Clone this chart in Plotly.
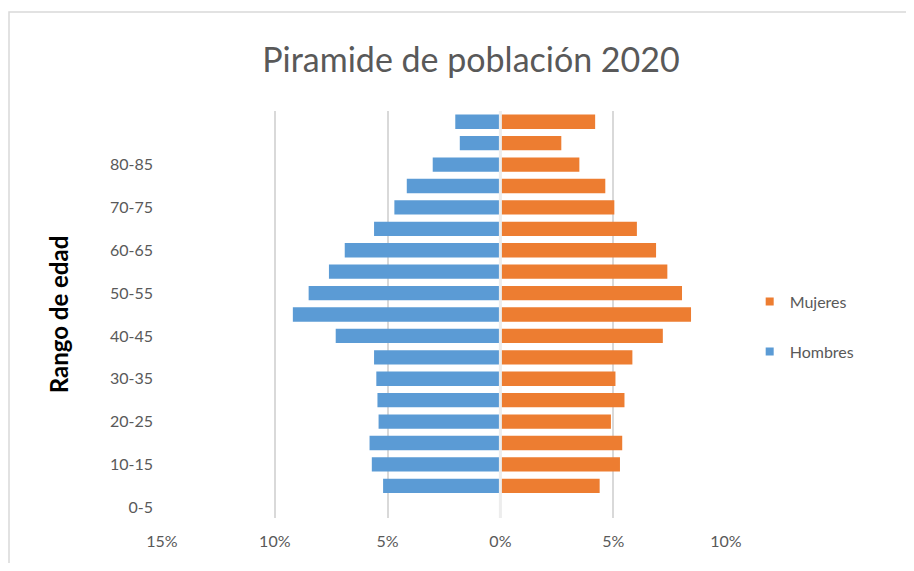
import plotly.graph_objects as go

age_groups = ["0-5", "5-10", "10-15", "15-20", "20-25", "25-30", "30-35", "35-40",
              "40-45", "45-50", "50-55", "55-60", "60-65", "65-70", "70-75", "75-80",
              "80-85", "85-90", "90-95"]
# percentages (bottom to top); first age group has no bar in the picture
hombres = [None, 5.2, 5.7, 5.8, 5.4, 5.45, 5.5, 5.6, 7.3, 9.2, 8.5, 7.6, 6.9, 5.6, 4.7, 4.15, 3.0, 1.8, 2.0]
mujeres = [None, 4.4, 5.3, 5.4, 4.9, 5.5, 5.1, 5.85, 7.2, 8.45, 8.05, 7.4, 6.9, 6.05, 5.05, 4.65, 3.5, 2.7, 4.2]
y_tick_labels = ["0-5", "10-15", "20-25", "30-35", "40-45", "50-55", "60-65", "70-75", "80-85"]
x_tick_vals = [-15, -10, -5, 0, 5, 10]
x_tick_text = ["15%", "10%", "5%", "0%", "5%", "10%"]

font_family = "Lato, 'Open Sans', sans-serif"
gray = "#595959"
blue = "#5B9BD5"
orange = "#ED7D31"

W, H = 898, 555
L, T, PW, PH = 154, 103, 564, 407

fig = go.Figure()
fig.add_trace(go.Bar(
    y=age_groups, x=[-v if v is not None else None for v in hombres],
    orientation="h", name="Hombres", marker=dict(color=blue, line=dict(width=0)),
    showlegend=False,
))
fig.add_trace(go.Bar(
    y=age_groups, x=mujeres,
    orientation="h", name="Mujeres", marker=dict(color=orange, line=dict(width=0)),
    showlegend=False,
))
# legend entries with small square keys
fig.add_trace(go.Scatter(x=[None], y=[None], mode="markers", name="Mujeres",
                         marker=dict(symbol="square", size=8, color=orange),
                         legendgroup="m", legendrank=1))
fig.add_trace(go.Scatter(x=[None], y=[None], mode="markers", name="Hombres",
                         marker=dict(symbol="square", size=8, color=blue),
                         legendgroup="h", legendrank=2))

fig.update_layout(
    width=W, height=H,
    paper_bgcolor="white", plot_bgcolor="white",
    margin=dict(l=L, r=W - L - PW, t=T, b=H - T - PH, autoexpand=False),
    barmode="relative", bargap=0.33,
    title=dict(text="Piramide de población 2020", x=463 / W, xanchor="center",
               y=1 - 52 / H, yanchor="middle",
               font=dict(family=font_family, size=34, color=gray)),
    font=dict(family=font_family, size=16, color=gray),
    xaxis=dict(range=[-15, 10], tickvals=x_tick_vals, ticktext=x_tick_text,
               showgrid=True, gridcolor="#D9D9D9", gridwidth=1.5,
               zeroline=True, zerolinecolor="#D9D9D9", zerolinewidth=1.5,
               showline=False, ticks="", ticklabelstandoff=12, automargin=False,
               tickfont=dict(family=font_family, size=16, color=gray), fixedrange=True),
    yaxis=dict(type="category", categoryorder="array", categoryarray=age_groups,
               tickvals=y_tick_labels, ticktext=y_tick_labels,
               showgrid=False, showline=False, ticks="", ticklabelstandoff=8,
               automargin=False,
               tickfont=dict(family=font_family, size=16, color=gray),
               title=dict(text="<b>Rango de edad</b>", standoff=34,
                          font=dict(family=font_family, size=24, color="#000000")),
               fixedrange=True),
    legend=dict(x=1.042, xanchor="left", y=0.47, yanchor="middle",
                traceorder="grouped", tracegroupgap=26,
                font=dict(family=font_family, size=16, color=gray),
                itemwidth=30),
    shapes=[
        dict(type="rect", xref="paper", yref="paper",
             x0=-(L - 1) / PW, x1=(W - L + 20) / PW, y0=-0.3, y1=1 + (T - 4) / PH,
             line=dict(color="#D9D9D9", width=1.5), fillcolor="rgba(0,0,0,0)",
             layer="below"),
        dict(type="line", xref="x", yref="paper", x0=0, x1=0, y0=0, y1=1,
             line=dict(color="#EDEDED", width=3), layer="above"),
    ],
)

fig.write_html("out.html")
